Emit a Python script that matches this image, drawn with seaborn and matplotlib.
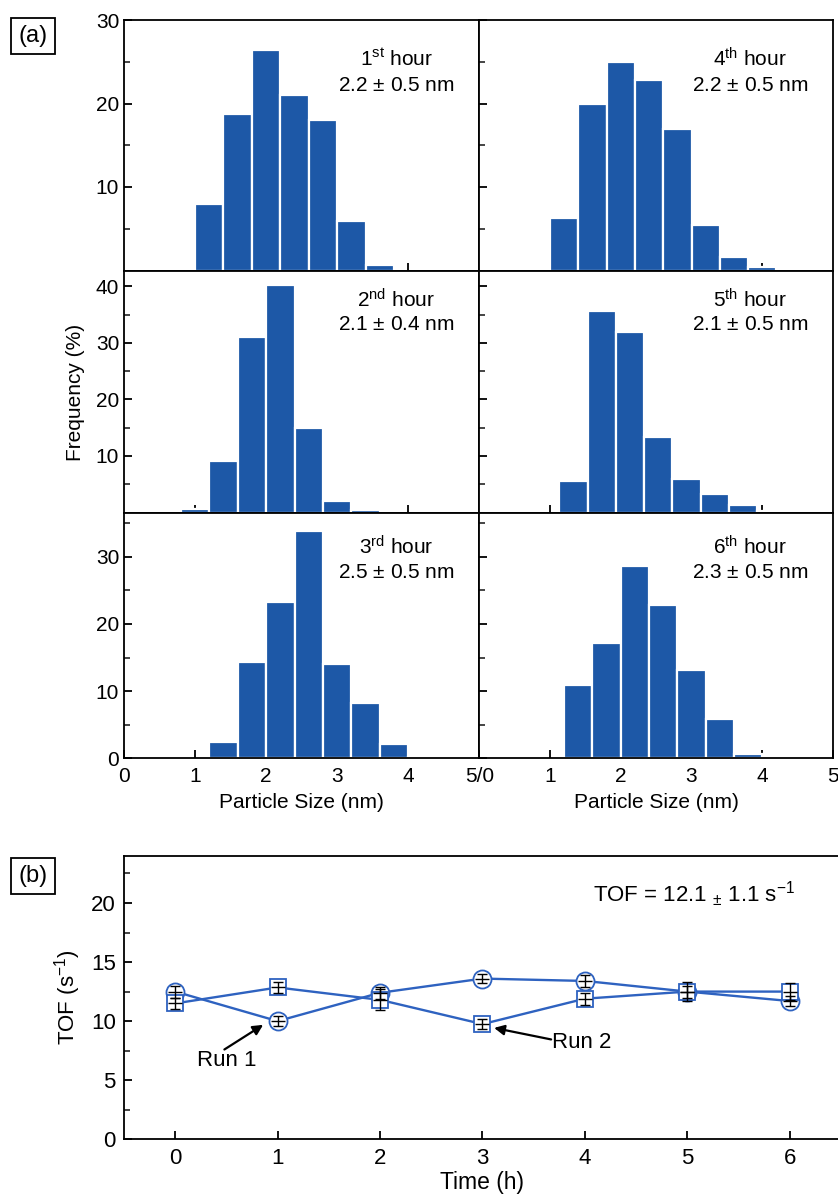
import numpy as np
import pandas as pd
import matplotlib
matplotlib.use("Agg")
import matplotlib.pyplot as plt
from matplotlib.ticker import MultipleLocator, FixedLocator
import seaborn as sns

# ---- panel (a): particle size histograms (frequency %, bin width 0.4 nm) ----
bin_width = 0.4
hour_labels = ['1$^{\\mathrm{st}}$ hour', '2$^{\\mathrm{nd}}$ hour', '3$^{\\mathrm{rd}}$ hour',
               '4$^{\\mathrm{th}}$ hour', '5$^{\\mathrm{th}}$ hour', '6$^{\\mathrm{th}}$ hour']
size_labels = ['2.2 $\\pm$ 0.5 nm', '2.1 $\\pm$ 0.4 nm', '2.5 $\\pm$ 0.5 nm',
               '2.2 $\\pm$ 0.5 nm', '2.1 $\\pm$ 0.5 nm', '2.3 $\\pm$ 0.5 nm']
bin_starts = [1.0, 0.8, 1.2, 1.0, 1.13, 1.2]
freq_h1 = [8.0, 18.8, 26.4, 21.0, 18.0, 5.9, 0.65]
freq_h2 = [0.6, 9.1, 31.0, 40.2, 14.9, 2.0, 0.4]
freq_h3 = [2.4, 14.4, 23.2, 33.8, 14.0, 8.2, 2.2, 0.15]
freq_h4 = [6.3, 20.0, 25.0, 22.8, 17.0, 5.4, 1.6, 0.45]
freq_h5 = [5.6, 35.6, 32.0, 13.4, 5.9, 3.3, 1.3, 0.3]
freq_h6 = [10.9, 17.1, 28.7, 22.9, 13.1, 5.8, 0.6]
freqs = [freq_h1, freq_h2, freq_h3, freq_h4, freq_h5, freq_h6]

# ---- panel (b): TOF vs time ----
hours = [0, 1, 2, 3, 4, 5, 6]
tof_run1 = [12.5, 10.0, 12.4, 13.6, 13.4, 12.5, 11.7]
err_run1 = [0.5, 0.4, 0.5, 0.4, 0.5, 0.5, 0.4]
tof_run2 = [11.5, 12.85, 11.8, 9.75, 11.9, 12.5, 12.5]
err_run2 = [0.5, 0.5, 0.9, 0.4, 0.5, 0.8, 0.7]

BAR_BLUE = '#1d58a7'
LINE_BLUE = '#2e62c0'

sns.set_theme(style='ticks')
plt.rcParams['font.family'] = ['Liberation Sans', 'DejaVu Sans']
plt.rcParams['mathtext.fontset'] = 'custom'
plt.rcParams['mathtext.rm'] = 'Liberation Sans'
plt.rcParams['mathtext.it'] = 'Liberation Sans:italic'
plt.rcParams['axes.linewidth'] = 1.3
plt.rcParams['axes.edgecolor'] = 'black'
plt.rcParams['text.color'] = 'black'
plt.rcParams['axes.labelcolor'] = 'black'

W, H = 838, 1195
fig = plt.figure(figsize=(W / 100, H / 100), dpi=100)


def fx(px):
    return px / W


def fy(py):
    return 1 - py / H


col_x = [(124, 479.3), (479.3, 833)]
row_y = [(20, 270.5), (270.5, 512.5), (512.5, 758.3)]
row_ylim = [30, 42.8, 36.6]
row_major = [[10, 20, 30], [10, 20, 30, 40], [0, 10, 20, 30]]
row_minor = [[5, 15, 25], [5, 15, 25, 35], [5, 15, 25, 35]]
text_y = [0.845, 0.88, 0.862]

for c in range(2):
    for r in range(3):
        k = c * 3 + r
        x0, x1 = col_x[c]
        y0, y1 = row_y[r]
        ax = fig.add_axes([fx(x0), fy(y1), fx(x1) - fx(x0), (y1 - y0) / H])
        vals = freqs[k]
        edges = [bin_starts[k] + bin_width * i for i in range(len(vals) + 1)]
        centers = [e + bin_width / 2 for e in edges[:-1]]
        sns.histplot(x=centers, weights=vals, bins=edges, ax=ax, color=BAR_BLUE,
                     alpha=1, edgecolor='white', linewidth=1.6)
        ax.set_xlim(0, 5)
        ax.set_ylim(0, row_ylim[r])
        ax.set_xlabel('')
        ax.set_ylabel('')
        ax.yaxis.set_major_locator(FixedLocator(row_major[r]))
        ax.yaxis.set_minor_locator(FixedLocator(row_minor[r]))
        ax.tick_params(axis='both', which='major', direction='in', length=6,
                       width=1.3, labelsize=15, colors='black')
        ax.tick_params(axis='y', which='minor', direction='in', length=4, width=1.2)
        if c == 1:
            ax.tick_params(axis='y', labelleft=False)
        if r < 2:
            ax.set_xticks([1, 2, 3, 4])
            ax.tick_params(axis='x', labelbottom=False)
        else:
            ax.set_xticks([0, 1, 2, 3, 4, 5])
            if c == 0:
                ax.set_xticklabels(['0', '1', '2', '3', '4', ''])
            else:
                ax.set_xticklabels(['5/0', '1', '2', '3', '4', '5'])
            ax.tick_params(axis='x', pad=6)
            ax.set_xlabel('Particle Size (nm)', fontsize=15, labelpad=5)
        for s in ax.spines.values():
            s.set_visible(True)
            s.set_linewidth(1.3)
        ax.text(0.766, text_y[r], hour_labels[k], transform=ax.transAxes,
                ha='center', va='center', fontsize=15)
        ax.text(0.766, text_y[r] - 0.105, size_labels[k], transform=ax.transAxes,
                ha='center', va='center', fontsize=15)

fig.text(fx(75), fy(392), 'Frequency (%)', rotation=90, ha='center', va='center',
         fontsize=15)
fig.text(fx(33), fy(36), '(a)', ha='center', va='center', fontsize=17,
         bbox=dict(boxstyle='square,pad=0.3', fc='white', ec='black', lw=1.3))
fig.text(fx(33), fy(876), '(b)', ha='center', va='center', fontsize=17,
         bbox=dict(boxstyle='square,pad=0.3', fc='white', ec='black', lw=1.3))

# ---- panel (b) ----
axb = fig.add_axes([fx(124), fy(1139.3), fx(841) - fx(124), (1139.3 - 855.7) / H])
tof_df = pd.DataFrame({'hour': hours * 2,
                       'tof': tof_run1 + tof_run2,
                       'err': err_run1 + err_run2,
                       'run': ['Run 1'] * 7 + ['Run 2'] * 7})
for run, mk, ms in [('Run 1', 'o', 13), ('Run 2', 's', 11.5)]:
    d = tof_df[tof_df['run'] == run]
    sns.lineplot(data=d, x='hour', y='tof', ax=axb, color=LINE_BLUE, lw=1.7,
                 marker=mk, markersize=ms, markerfacecolor='white',
                 markeredgecolor=LINE_BLUE, markeredgewidth=1.3, zorder=3)
    axb.errorbar(d['hour'], d['tof'], yerr=d['err'], fmt='none', ecolor='black',
                 elinewidth=1.0, capsize=3.8, capthick=1.0, zorder=4)
    axb.plot(d['hour'], d['tof'], ls='none', marker='_', ms=10, mew=1.0,
             color='black', zorder=4)

axb.set_xlim(-0.5, 6.5)
axb.set_ylim(0, 24)
axb.set_xticks(hours)
axb.yaxis.set_major_locator(MultipleLocator(5))
axb.yaxis.set_minor_locator(MultipleLocator(2.5))
axb.tick_params(axis='both', which='major', direction='in', length=6, width=1.3,
                labelsize=16, colors='black', pad=6)
axb.tick_params(axis='y', which='minor', direction='in', length=4, width=1.2)
axb.set_xlabel('Time (h)', fontsize=16.5, labelpad=2)
axb.set_ylabel('')
for s in axb.spines.values():
    s.set_visible(True)
    s.set_linewidth(1.3)
fig.text(fx(68), fy(997), 'TOF (s$^{-1}$)', rotation=90, ha='center', va='center',
         fontsize=16)
axb.text(4.08, 20.7, 'TOF = 12.1 $_{\\pm}$ 1.1 s$^{-1}$', ha='left', va='center',
         fontsize=16)
arrow = dict(arrowstyle='-|>', color='black', lw=1.6, mutation_scale=15,
             shrinkA=0, shrinkB=1)
axb.text(0.5, 6.66, 'Run 1', ha='center', va='center', fontsize=16)
axb.annotate('', xy=(0.87, 9.75), xytext=(0.48, 7.6), arrowprops=arrow)
axb.text(3.68, 8.16, 'Run 2', ha='left', va='center', fontsize=16)
axb.annotate('', xy=(3.10, 9.45), xytext=(3.67, 8.45), arrowprops=arrow)

fig.savefig('out.png', dpi=100)
